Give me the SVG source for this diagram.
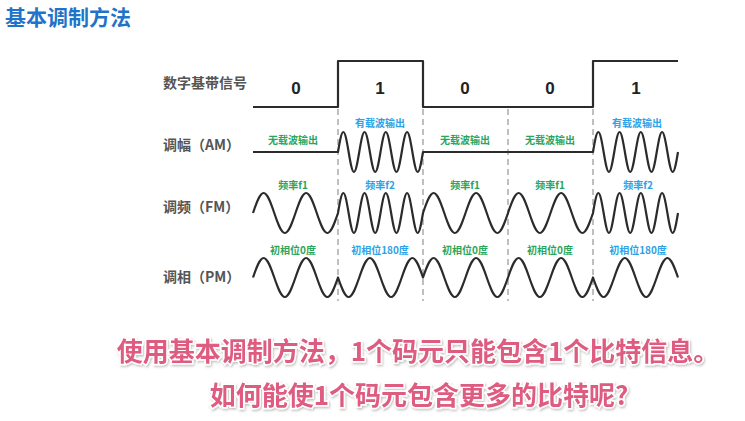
<svg xmlns="http://www.w3.org/2000/svg" width="745" height="421" viewBox="0 0 745 421">
<defs>
<style>
.t{font-family:"Noto Sans CJK SC","Noto Sans",sans-serif;font-weight:bold}
.row{font-size:14px;fill:#555}
.bit{font-family:"Liberation Sans",Arial,sans-serif;font-weight:bold;font-size:17px;fill:#222;text-anchor:middle}
.sm{font-size:10px;text-anchor:middle}
.g{fill:#2aa55c}
.b{fill:#2ea2e6}
.wave{fill:none;stroke:#2b2b2b;stroke-width:2.2;stroke-linejoin:round}
.dash{stroke:#aaaaaa;stroke-width:1.5;stroke-dasharray:6 4}
.big{font-size:26px;fill:#de5b80;stroke:#fff;stroke-width:3;paint-order:stroke;text-anchor:middle}
</style>
<filter id="sh" x="-5%" y="-30%" width="110%" height="160%">
<feDropShadow dx="1" dy="1.5" stdDeviation="1" flood-color="#000" flood-opacity="0.25"/>
</filter>
</defs>
<rect width="745" height="421" fill="#fff"/>
<g id="title"><text class="t" x="5" y="25" font-size="21" fill="#1f74c9">基本调制方法</text></g>

<g id="grid">
<line class="dash" x1="338" y1="109" x2="338" y2="301"/>
<line class="dash" x1="423" y1="109" x2="423" y2="301"/>
<line class="dash" x1="508" y1="109" x2="508" y2="301"/>
<line class="dash" x1="593" y1="109" x2="593" y2="301"/>
</g>

<g id="digital">
<text class="t row" x="163" y="88">数字基带信号</text>
<path class="wave" stroke-width="2.5" d="M253,107 H338 V61 H423 V107 H593 V61 H678"/>
<text class="bit" x="296" y="94">0</text>
<text class="bit" x="380" y="94">1</text>
<text class="bit" x="465" y="94">0</text>
<text class="bit" x="550" y="94">0</text>
<text class="bit" x="636" y="94">1</text>
</g>

<g id="am">
<text class="t row" x="163" y="150">调幅（AM）</text>
<text class="t sm g" x="293" y="144">无载波输出</text>
<text class="t sm b" x="380" y="127">有载波输出</text>
<text class="t sm g" x="465" y="144">无载波输出</text>
<text class="t sm g" x="550" y="144">无载波输出</text>
<text class="t sm b" x="637" y="127">有载波输出</text>
<path class="wave" d="M253,152 H338
c1.732,-10.246 3.389,-20 5.313,-20 c1.923,0 3.581,9.754 5.313,20 c1.732,10.246 3.389,20 5.313,20 c1.923,0 3.581,-9.754 5.313,-20
c1.732,-10.246 3.389,-20 5.313,-20 c1.923,0 3.581,9.754 5.313,20 c1.732,10.246 3.389,20 5.313,20 c1.923,0 3.581,-9.754 5.313,-20
c1.732,-10.246 3.389,-20 5.313,-20 c1.923,0 3.581,9.754 5.313,20 c1.732,10.246 3.389,20 5.313,20 c1.923,0 3.581,-9.754 5.313,-20
c1.732,-10.246 3.389,-20 5.313,-20 c1.923,0 3.581,9.754 5.313,20 c1.732,10.246 3.389,20 5.313,20 c1.923,0 3.581,-9.754 5.313,-20
H593
c1.732,-10.246 3.389,-20 5.313,-20 c1.923,0 3.581,9.754 5.313,20 c1.732,10.246 3.389,20 5.313,20 c1.923,0 3.581,-9.754 5.313,-20
c1.732,-10.246 3.389,-20 5.313,-20 c1.923,0 3.581,9.754 5.313,20 c1.732,10.246 3.389,20 5.313,20 c1.923,0 3.581,-9.754 5.313,-20
c1.732,-10.246 3.389,-20 5.313,-20 c1.923,0 3.581,9.754 5.313,20 c1.732,10.246 3.389,20 5.313,20 c1.923,0 3.581,-9.754 5.313,-20
c1.732,-10.246 3.389,-20 5.313,-20 c1.923,0 3.581,9.754 5.313,20 c1.732,10.246 3.389,20 5.313,20 c1.923,0 3.581,-9.754 5.313,-20"/>
</g>

<g id="fm">
<text class="t row" x="163" y="212">调频（FM）</text>
<text class="t sm g" x="293" y="189">频率f1</text>
<text class="t sm b" x="380" y="189">频率f2</text>
<text class="t sm g" x="465" y="189">频率f1</text>
<text class="t sm g" x="550" y="189">频率f1</text>
<text class="t sm b" x="638" y="189">频率f2</text>
<path class="wave" d="M253,213
c3.464,-10.246 6.779,-20 10.625,-20 c3.846,0 7.161,9.754 10.625,20 c3.464,10.246 6.779,20 10.625,20 c3.846,0 7.161,-9.754 10.625,-20
c3.464,-10.246 6.779,-20 10.625,-20 c3.846,0 7.161,9.754 10.625,20 c3.464,10.246 6.779,20 10.625,20 c3.846,0 7.161,-9.754 10.625,-20
c1.732,-10.246 3.389,-20 5.313,-20 c1.923,0 3.581,9.754 5.313,20 c1.732,10.246 3.389,20 5.313,20 c1.923,0 3.581,-9.754 5.313,-20
c1.732,-10.246 3.389,-20 5.313,-20 c1.923,0 3.581,9.754 5.313,20 c1.732,10.246 3.389,20 5.313,20 c1.923,0 3.581,-9.754 5.313,-20
c1.732,-10.246 3.389,-20 5.313,-20 c1.923,0 3.581,9.754 5.313,20 c1.732,10.246 3.389,20 5.313,20 c1.923,0 3.581,-9.754 5.313,-20
c1.732,-10.246 3.389,-20 5.313,-20 c1.923,0 3.581,9.754 5.313,20 c1.732,10.246 3.389,20 5.313,20 c1.923,0 3.581,-9.754 5.313,-20
c3.464,-10.246 6.779,-20 10.625,-20 c3.846,0 7.161,9.754 10.625,20 c3.464,10.246 6.779,20 10.625,20 c3.846,0 7.161,-9.754 10.625,-20
c3.464,-10.246 6.779,-20 10.625,-20 c3.846,0 7.161,9.754 10.625,20 c3.464,10.246 6.779,20 10.625,20 c3.846,0 7.161,-9.754 10.625,-20
c3.464,-10.246 6.779,-20 10.625,-20 c3.846,0 7.161,9.754 10.625,20 c3.464,10.246 6.779,20 10.625,20 c3.846,0 7.161,-9.754 10.625,-20
c3.464,-10.246 6.779,-20 10.625,-20 c3.846,0 7.161,9.754 10.625,20 c3.464,10.246 6.779,20 10.625,20 c3.846,0 7.161,-9.754 10.625,-20
c1.732,-10.246 3.389,-20 5.313,-20 c1.923,0 3.581,9.754 5.313,20 c1.732,10.246 3.389,20 5.313,20 c1.923,0 3.581,-9.754 5.313,-20
c1.732,-10.246 3.389,-20 5.313,-20 c1.923,0 3.581,9.754 5.313,20 c1.732,10.246 3.389,20 5.313,20 c1.923,0 3.581,-9.754 5.313,-20
c1.732,-10.246 3.389,-20 5.313,-20 c1.923,0 3.581,9.754 5.313,20 c1.732,10.246 3.389,20 5.313,20 c1.923,0 3.581,-9.754 5.313,-20
c1.732,-10.246 3.389,-20 5.313,-20 c1.923,0 3.581,9.754 5.313,20 c1.732,10.246 3.389,20 5.313,20 c1.923,0 3.581,-9.754 5.313,-20"/>
</g>

<g id="pm">
<text class="t row" x="163" y="282">调相（PM）</text>
<text class="t sm g" x="293" y="254">初相位0度</text>
<text class="t sm b" x="380" y="254">初相位180度</text>
<text class="t sm g" x="465" y="254">初相位0度</text>
<text class="t sm g" x="550" y="254">初相位0度</text>
<text class="t sm b" x="638" y="254">初相位180度</text>
<path class="wave" d="M253,277.5
c3.464,-9.99 6.779,-19.5 10.625,-19.5 c3.846,0 7.161,9.51 10.625,19.5 c3.464,9.99 6.779,19.5 10.625,19.5 c3.846,0 7.161,-9.51 10.625,-19.5
c3.464,-9.99 6.779,-19.5 10.625,-19.5 c3.846,0 7.161,9.51 10.625,19.5 c3.464,9.99 6.779,19.5 10.625,19.5 c3.846,0 7.161,-9.51 10.625,-19.5
c3.464,9.99 6.779,19.5 10.625,19.5 c3.846,0 7.161,-9.51 10.625,-19.5 c3.464,-9.99 6.779,-19.5 10.625,-19.5 c3.846,0 7.161,9.51 10.625,19.5
c3.464,9.99 6.779,19.5 10.625,19.5 c3.846,0 7.161,-9.51 10.625,-19.5 c3.464,-9.99 6.779,-19.5 10.625,-19.5 c3.846,0 7.161,9.51 10.625,19.5
c3.464,-9.99 6.779,-19.5 10.625,-19.5 c3.846,0 7.161,9.51 10.625,19.5 c3.464,9.99 6.779,19.5 10.625,19.5 c3.846,0 7.161,-9.51 10.625,-19.5
c3.464,-9.99 6.779,-19.5 10.625,-19.5 c3.846,0 7.161,9.51 10.625,19.5 c3.464,9.99 6.779,19.5 10.625,19.5 c3.846,0 7.161,-9.51 10.625,-19.5
c3.464,-9.99 6.779,-19.5 10.625,-19.5 c3.846,0 7.161,9.51 10.625,19.5 c3.464,9.99 6.779,19.5 10.625,19.5 c3.846,0 7.161,-9.51 10.625,-19.5
c3.464,-9.99 6.779,-19.5 10.625,-19.5 c3.846,0 7.161,9.51 10.625,19.5 c3.464,9.99 6.779,19.5 10.625,19.5 c3.846,0 7.161,-9.51 10.625,-19.5
c3.464,9.99 6.779,19.5 10.625,19.5 c3.846,0 7.161,-9.51 10.625,-19.5 c3.464,-9.99 6.779,-19.5 10.625,-19.5 c3.846,0 7.161,9.51 10.625,19.5
c3.464,9.99 6.779,19.5 10.625,19.5 c3.846,0 7.161,-9.51 10.625,-19.5 c3.464,-9.99 6.779,-19.5 10.625,-19.5 c3.846,0 7.161,9.51 10.625,19.5"/>
</g>

<g id="note" filter="url(#sh)">
<text class="t big" x="418" y="361">使用基本调制方法，1个码元只能包含1个比特信息。</text>
<text class="t big" x="419" y="405">如何能使1个码元包含更多的比特呢?</text>
</g>
</svg>
